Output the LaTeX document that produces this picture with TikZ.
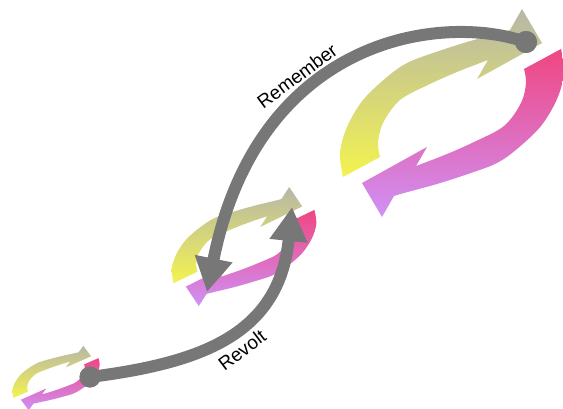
\documentclass[tikz,border=0pt]{standalone}
\usepackage{fontspec}
\setmainfont{Liberation Sans}
\usetikzlibrary{arrows.meta}
\definecolor{cgrey}{HTML}{B7B7A8}
\definecolor{cyellow}{HTML}{F3F34F}
\definecolor{cpink}{HTML}{F04682}
\definecolor{cviolet}{HTML}{CF91F5}
\definecolor{lgrey}{HTML}{777777}
% one half of a cycle; #1 = +1 (upper arc) or -1 (lower arc, turned by 180 degrees)
\newcommand\halfcycle[3]{%
  \shade[top color=#2,bottom color=#3]
    plot[smooth,tension=0.55] coordinates {
      ({#1*(-109)},{#1*64}) ({#1*(-112)},{#1*40}) ({#1*(-105)},{#1*14})
      ({#1*(-89)},{#1*(-13)}) ({#1*(-65)},{#1*(-36)}) ({#1*(-45)},{#1*(-50)})
      ({#1*(-19)},{#1*(-60)}) ({#1*15},{#1*(-71)}) ({#1*48},{#1*(-80)})
      ({#1*58},{#1*(-83)})}
    -- ({#1*70},{#1*(-104)}) -- ({#1*90},{#1*(-70)}) -- ({#1*25},{#1*(-34)})
    -- plot[smooth,tension=0.55] coordinates {
      ({#1*36},{#1*(-53)}) ({#1*28},{#1*(-50)}) ({#1*5},{#1*(-41)})
      ({#1*(-22)},{#1*(-29)}) ({#1*(-52)},{#1*(-13)}) ({#1*(-69)},{#1*10})
      ({#1*(-74)},{#1*30}) ({#1*(-72)},{#1*44})}
    -- cycle;}
\newcommand\fullcycle{\halfcycle{1}{cgrey}{cyellow}\halfcycle{-1}{cpink}{cviolet}}
\tikzset{
  conn/.style={draw=lgrey, line width=12pt, -{Triangle[width=36pt,length=34pt]}},
  dotnode/.style={circle, fill=lgrey, inner sep=0pt, minimum size=#1},
  lbl/.style={font=\fontsize{19}{22}\selectfont, text=black, inner sep=0pt}
}
\begin{document}
\begin{tikzpicture}[x=1pt,y=-1pt]
\useasboundingbox (0,0) rectangle (563,408);
% cycles
\begin{scope}[shift={(452,113)}]
  \fullcycle
\end{scope}
\begin{scope}[shift={(244,246.5)},xscale=0.646,yscale=0.572]
  \fullcycle
\end{scope}
\begin{scope}[shift={(56,378)},xscale=0.39,yscale=0.31]
  \fullcycle
\end{scope}
% dots and ends
\node[dotnode=22pt] (bigdot) at (526,42) {};
\node[dotnode=21pt] (smalldot) at (90,377) {};
\coordinate (remEnd) at (207,292);
\coordinate (revEnd) at (292,207);
% connectors
\draw[conn] (bigdot.center) .. controls (441,12.6) and (258,37) .. (remEnd);
\draw[conn] (smalldot.center) .. controls (199,363) and (279,336) .. (revEnd);
\node[dotnode=22pt] at (bigdot) {};
\node[dotnode=21pt] at (smalldot) {};
% labels
\node[lbl, rotate=36.5] (remember) at (297,76) {Remember};
\node[lbl, rotate=37] (revolt) at (242,350) {Revolt};
\end{tikzpicture}
\end{document}
